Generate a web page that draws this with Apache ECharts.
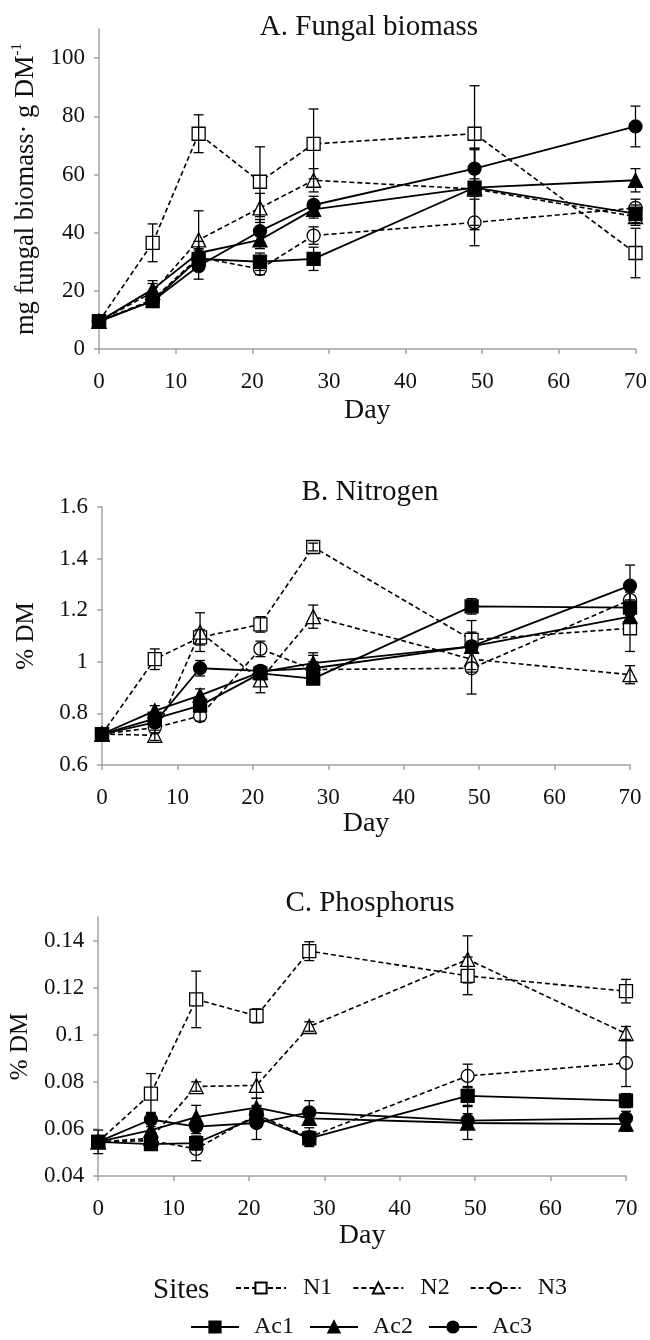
<!DOCTYPE html>
<html>
<head>
<meta charset="utf-8">
<script src="https://cdn.jsdelivr.net/npm/echarts@6/dist/echarts.min.js"></script>
<style>
html,body{margin:0;padding:0;background:#fff;}
#chart{width:650px;height:1340px;}
</style>
</head>
<body>
<div id="chart"></div>
<script>
// ---------- data ----------
const days = [0, 7, 13, 21, 28, 49, 70];
const siteNames = ['N1', 'N2', 'N3', 'Ac1', 'Ac2', 'Ac3'];
const xTicks = [0, 10, 20, 30, 40, 50, 60, 70];

// A. Fungal biomass (mg fungal biomass per g DM)
const fungalN1  = [9.5, 36.5, 74.0, 57.5, 70.5, 74.0, 33.0];
const fungalN2  = [9.5, 19.5, 37.5, 48.5, 58.0, 55.0, 45.5];
const fungalN3  = [9.5, 17.0, 31.5, 27.5, 39.0, 43.5, 48.5];
const fungalAc1 = [9.5, 16.5, 31.0, 30.0, 31.0, 55.5, 46.5];
const fungalAc2 = [9.5, 20.5, 33.0, 37.5, 48.0, 55.5, 58.0];
const fungalAc3 = [9.5, 16.5, 28.5, 40.5, 49.5, 62.0, 76.5];
const fungalSdN1  = [0, 6.5, 6.5, 12, 12, 16.5, 8.5];
const fungalSdN2  = [0, 3, 10, 5, 4, 14, 3];
const fungalSdN3  = [0, 2, 3, 2, 3, 8, 3];
const fungalSdAc1 = [0, 2, 3, 3, 4, 3, 3];
const fungalSdAc2 = [0, 3, 4, 3, 3, 13, 4];
const fungalSdAc3 = [0, 2, 4.5, 4, 3, 7, 7];
const fungalTicks = [0, 20, 40, 60, 80, 100];

// B. Nitrogen (% DM)
const nitroN1  = [0.72, 1.01, 1.095, 1.145, 1.445, 1.085, 1.13];
const nitroN2  = [0.72, 0.715, 1.115, 0.93, 1.175, 1.01, 0.95];
const nitroN3  = [0.72, 0.745, 0.79, 1.05, 0.97, 0.975, 1.24];
const nitroAc1 = [0.72, 0.78, 0.83, 0.955, 0.935, 1.215, 1.21];
const nitroAc2 = [0.72, 0.81, 0.87, 0.96, 0.995, 1.06, 1.175];
const nitroAc3 = [0.72, 0.765, 0.975, 0.965, 0.975, 1.06, 1.295];
const nitroSdN1  = [0, 0.04, 0.03, 0.03, 0.015, 0.03, 0.09];
const nitroSdN2  = [0, 0.02, 0.075, 0.05, 0.045, 0.04, 0.035];
const nitroSdN3  = [0, 0.02, 0.02, 0.03, 0.03, 0.1, 0.03];
const nitroSdAc1 = [0, 0.02, 0.02, 0.02, 0.02, 0.03, 0.03];
const nitroSdAc2 = [0, 0.02, 0.025, 0.02, 0.03, 0.1, 0.02];
const nitroSdAc3 = [0, 0.02, 0.03, 0.02, 0.06, 0.02, 0.08];
const nitroTicks = [0.6, 0.8, 1, 1.2, 1.4, 1.6];

// C. Phosphorus (% DM)
const phosN1  = [0.0545, 0.075, 0.115, 0.108, 0.1355, 0.125, 0.1185];
const phosN2  = [0.0545, 0.056, 0.078, 0.0785, 0.1035, 0.132, 0.1005];
const phosN3  = [0.0545, 0.055, 0.0515, 0.066, 0.0565, 0.0825, 0.088];
const phosAc1 = [0.0545, 0.0535, 0.054, 0.065, 0.056, 0.074, 0.072];
const phosAc2 = [0.0545, 0.0595, 0.065, 0.069, 0.0645, 0.0625, 0.062];
const phosAc3 = [0.0545, 0.064, 0.061, 0.0625, 0.067, 0.0635, 0.0645];
const phosSdN1  = [0.005, 0.0085, 0.012, 0.003, 0.004, 0.008, 0.005];
const phosSdN2  = [0, 0.003, 0.002, 0.0055, 0.002, 0.01, 0.003];
const phosSdN3  = [0, 0.003, 0.005, 0.004, 0.004, 0.005, 0.01];
const phosSdAc1 = [0, 0.002, 0.003, 0.003, 0.003, 0.004, 0.003];
const phosSdAc2 = [0, 0.003, 0.005, 0.004, 0.003, 0.007, 0.003];
const phosSdAc3 = [0, 0.003, 0.003, 0.007, 0.005, 0.003, 0.003];
const phosTicks = [0.04, 0.06, 0.08, 0.1, 0.12, 0.14];

// ---------- styling ----------
const FONT = "'Liberation Serif', 'Times New Roman', serif";
const AXIS_GRAY = '#a3a3a3';
const siteStyle = {
  N1:  {symbol: 'rect',     fill: '#fff', dash: [5, 3]},
  N2:  {symbol: 'triangle', fill: '#fff', dash: [5, 3]},
  N3:  {symbol: 'circle',   fill: '#fff', dash: [5, 3]},
  Ac1: {symbol: 'rect',     fill: '#000', dash: 'solid'},
  Ac2: {symbol: 'triangle', fill: '#000', dash: 'solid'},
  Ac3: {symbol: 'circle',   fill: '#000', dash: 'solid'}
};

const panels = [
  {means: [fungalN1, fungalN2, fungalN3, fungalAc1, fungalAc2, fungalAc3],
   sds: [fungalSdN1, fungalSdN2, fungalSdN3, fungalSdAc1, fungalSdAc2, fungalSdAc3]},
  {means: [nitroN1, nitroN2, nitroN3, nitroAc1, nitroAc2, nitroAc3],
   sds: [nitroSdN1, nitroSdN2, nitroSdN3, nitroSdAc1, nitroSdAc2, nitroSdAc3]},
  {means: [phosN1, phosN2, phosN3, phosAc1, phosAc2, phosAc3],
   sds: [phosSdN1, phosSdN2, phosSdN3, phosSdAc1, phosSdAc2, phosSdAc3]}
];

function errRender(params, api) {
  const x = api.value(0), m = api.value(1), s = api.value(2);
  if (!s) return null;
  const hi = api.coord([x, m + s]);
  const lo = api.coord([x, m - s]);
  const w = 5;
  const st = {stroke: '#000', lineWidth: 1.3};
  return {
    type: 'group',
    children: [
      {type: 'line', shape: {x1: hi[0], y1: hi[1], x2: lo[0], y2: lo[1]}, style: st},
      {type: 'line', shape: {x1: hi[0] - w, y1: hi[1], x2: hi[0] + w, y2: hi[1]}, style: st},
      {type: 'line', shape: {x1: lo[0] - w, y1: lo[1], x2: lo[0] + w, y2: lo[1]}, style: st}
    ]
  };
}

const series = [];
panels.forEach((p, pi) => {
  siteNames.forEach((name, si) => {
    const s = siteStyle[name];
    series.push({
      name: name,
      type: 'line',
      xAxisIndex: pi, yAxisIndex: pi,
      data: days.map((d, j) => [d, p.means[si][j]]),
      symbol: s.symbol,
      symbolSize: s.symbol === 'triangle' ? 14 : 13,
      showSymbol: true,
      lineStyle: {color: '#000', width: s.dash === 'solid' ? 1.8 : 1.6, type: s.dash},
      itemStyle: {color: s.fill, borderColor: '#000', borderWidth: 1.3},
      z: 2 + si,
      silent: true
    });
    series.push({
      name: name + ' error',
      type: 'custom',
      xAxisIndex: pi, yAxisIndex: pi,
      data: days.map((d, j) => [d, p.means[si][j], p.sds[si][j]]),
      renderItem: errRender,
      z: 20,
      silent: true
    });
  });
});

function xAxis(gi, gap) {
  return {
    type: 'value', gridIndex: gi, min: 0, max: 70, interval: 10,
    name: 'Day', nameLocation: 'middle', nameGap: gap,
    nameTextStyle: {fontFamily: FONT, fontSize: 28, color: '#111'},
    axisLine: {show: true, lineStyle: {color: AXIS_GRAY, width: 1.5}},
    axisTick: {show: true, inside: false, length: 5, lineStyle: {color: AXIS_GRAY, width: 1.5}},
    axisLabel: {fontFamily: FONT, fontSize: 23, color: '#111', margin: 21,
                customValues: xTicks},
    splitLine: {show: false}
  };
}
function yAxis(gi, min, max, ticks, name, gap, fs) {
  return {
    type: 'value', gridIndex: gi, min: min, max: max,
    name: name, nameLocation: 'middle', nameGap: gap, nameRotate: 90,
    nameTextStyle: {fontFamily: FONT, fontSize: fs, color: '#111',
      rich: {
        a: {fontFamily: FONT, fontSize: fs, color: '#111', verticalAlign: 'bottom', lineHeight: 30},
        sup: {fontFamily: FONT, fontSize: 15, color: '#111', verticalAlign: 'top', lineHeight: 30}
      }},
    axisLine: {show: true, lineStyle: {color: AXIS_GRAY, width: 1.5}},
    axisTick: {show: true, inside: false, length: 5, lineStyle: {color: AXIS_GRAY, width: 1.5},
               customValues: ticks},
    axisLabel: {fontFamily: FONT, fontSize: 23, color: '#111', margin: 14,
                customValues: ticks},
    splitLine: {show: false}
  };
}

const option = {
  animation: false,
  backgroundColor: '#fff',
  grid: [
    {left: 99, right: 13, top: 29, bottom: 991},
    {left: 102, right: 20, top: 507, bottom: 575},
    {left: 97, right: 24, top: 917, bottom: 164}
  ],
  xAxis: [xAxis(0, 48), xAxis(1, 45), xAxis(2, 46)],
  yAxis: [
    yAxis(0, 0, 110, fungalTicks, '{a|mg fungal biomass· g DM}{sup|-1}', 58, 26.5),
    yAxis(1, 0.6, 1.6, nitroTicks, '% DM', 63, 25),
    yAxis(2, 0.04, 0.15, phosTicks, '% DM', 58, 25)
  ],
  legend: [
    {
      data: ['N1', 'N2', 'N3'], left: 235, top: 1276, orient: 'horizontal',
      itemWidth: 50, itemHeight: 14, itemGap: 20, padding: 0, selectedMode: false,
      textStyle: {fontFamily: FONT, fontSize: 24, color: '#111', padding: [0, 0, 0, 12]}
    },
    {
      data: ['Ac1', 'Ac2', 'Ac3'], left: 190, top: 1315, orient: 'horizontal',
      itemWidth: 48, itemHeight: 14, itemGap: 15, padding: 0, selectedMode: false,
      textStyle: {fontFamily: FONT, fontSize: 24, color: '#111', padding: [0, 0, 0, 10]}
    }
  ],
  graphic: [
    {type: 'text', x: 369, y: 27, style: {text: 'A. Fungal biomass', fontFamily: FONT, fontSize: 29, fill: '#111', align: 'center', verticalAlign: 'middle'}},
    {type: 'text', x: 370, y: 492, style: {text: 'B. Nitrogen', fontFamily: FONT, fontSize: 29, fill: '#111', align: 'center', verticalAlign: 'middle'}},
    {type: 'text', x: 370, y: 903, style: {text: 'C. Phosphorus', fontFamily: FONT, fontSize: 29, fill: '#111', align: 'center', verticalAlign: 'middle'}},
    {type: 'text', x: 153, y: 1290, style: {text: 'Sites', fontFamily: FONT, fontSize: 29, fill: '#111', align: 'left', verticalAlign: 'middle'}}
  ],
  series: series
};

const chart = echarts.init(document.getElementById('chart'), null, {renderer: 'canvas'});
chart.setOption(option);
</script>
</body>
</html>
